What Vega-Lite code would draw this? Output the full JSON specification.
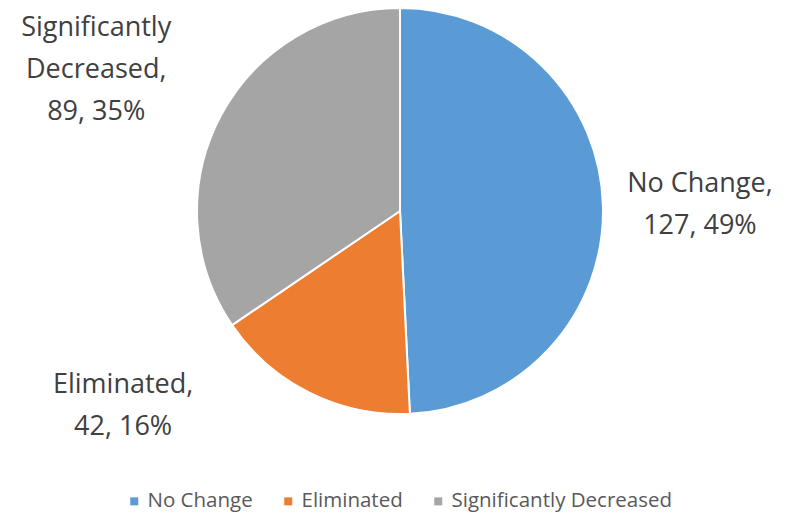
{
  "$schema": "https://vega.github.io/schema/vega-lite/v6.json",
  "width": 778,
  "height": 422,
  "autosize": {"type": "none"},
  "padding": {"left": 11, "top": 0, "right": 0, "bottom": 93},
  "background": "white",
  "config": {"view": {"stroke": null}},
  "data": {
    "values": [
      {"idx": 1, "category": "No Change", "value": 127, "label": "No Change,\n127, 49%"},
      {"idx": 2, "category": "Eliminated", "value": 42, "label": "Eliminated,\n42, 16%"},
      {"idx": 3, "category": "Significantly Decreased", "value": 89, "label": "Significantly\nDecreased,\n89, 35%"}
    ]
  },
  "encoding": {
    "theta": {"field": "value", "type": "quantitative", "stack": true},
    "order": {"field": "idx", "type": "quantitative"}
  },
  "layer": [
    {
      "mark": {"type": "arc", "outerRadius": 203, "stroke": "white", "strokeWidth": 2},
      "encoding": {
        "color": {
          "field": "category",
          "type": "nominal",
          "scale": {
            "domain": ["No Change", "Eliminated", "Significantly Decreased"],
            "range": ["#5B9BD5", "#ED7D31", "#A5A5A5"]
          },
          "legend": {
            "title": null,
            "orient": "none",
            "legendX": 113,
            "legendY": 491,
            "padding": 0,
            "direction": "horizontal",
            "symbolType": "square",
            "symbolSize": 64,
            "symbolStrokeWidth": 0,
            "labelFont": "Open Sans",
            "labelFontSize": 20.5,
            "labelColor": "#595959",
            "labelOffset": 3,
            "labelLimit": 0,
            "columnPadding": 25
          }
        }
      }
    },
    {
      "mark": {"type": "text", "radius": 300, "font": "Open Sans", "fontSize": 27, "fill": "#404040", "lineBreak": "\n", "lineHeight": 42, "align": "center", "baseline": "middle", "dy": -20},
      "encoding": {
        "text": {"condition": {"test": "datum.category === 'No Change'", "field": "label", "type": "nominal"}, "value": ""}
      }
    },
    {
      "mark": {"type": "text", "radius": 217, "font": "Open Sans", "fontSize": 27, "fill": "#404040", "lineBreak": "\n", "lineHeight": 42, "align": "center", "baseline": "middle", "dx": -180, "dy": -20},
      "encoding": {
        "text": {"condition": {"test": "datum.category === 'Eliminated'", "field": "label", "type": "nominal"}, "value": ""}
      }
    },
    {
      "mark": {"type": "text", "radius": 320, "font": "Open Sans", "fontSize": 27, "fill": "#404040", "lineBreak": "\n", "lineHeight": 42, "align": "center", "baseline": "middle", "dx": -21, "dy": -33},
      "encoding": {
        "text": {"condition": {"test": "datum.category === 'Significantly Decreased'", "field": "label", "type": "nominal"}, "value": ""}
      }
    }
  ]
}
